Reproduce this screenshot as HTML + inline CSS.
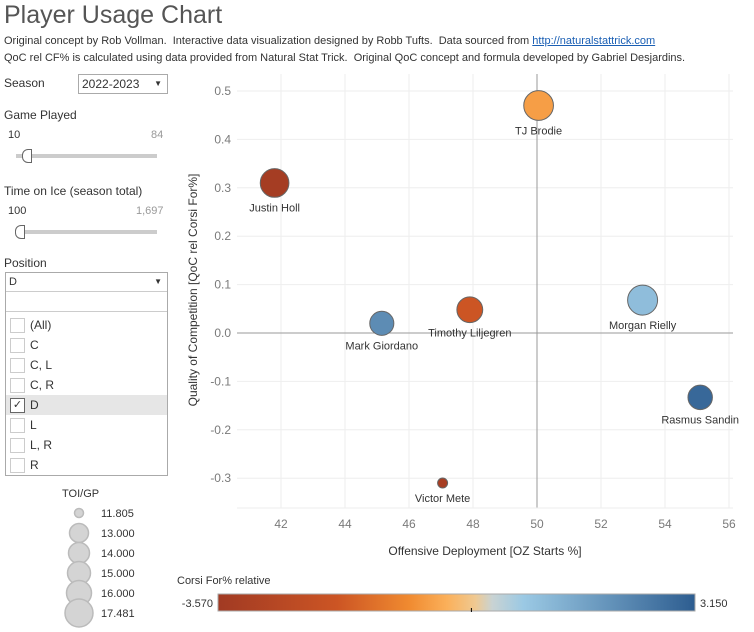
<!DOCTYPE html>
<html><head><meta charset="utf-8"><style>
body{margin:0;width:754px;height:632px;background:#fff;font-family:"Liberation Sans",sans-serif;color:#333;position:relative;overflow:hidden}
.a{position:absolute;white-space:nowrap}
.cb{position:absolute;left:4px;width:13px;height:13px;border:1px solid #ccc;background:#fff}
.opt{position:absolute;left:24px;font-size:12px;color:#333}
</style></head><body>
<div class="a" style="left:4px;top:1px;font-size:25px;color:#555;font-style:normal">Player Usage Chart</div>
<div class="a" style="left:4px;top:35px;font-size:11px;color:#333">Original concept by Rob Vollman.&nbsp; Interactive data visualization designed by Robb Tufts.&nbsp; Data sourced from <span style="color:#1a5fb4;text-decoration:underline">http://naturalstattrick.com</span></div>
<div class="a" style="left:4px;top:52px;font-size:11px;color:#333">QoC rel CF% is calculated using data provided from Natural Stat Trick.&nbsp; Original QoC concept and formula developed by Gabriel Desjardins.</div>

<div class="a" style="left:4px;top:76px;font-size:12px">Season</div>
<div class="a" style="left:78px;top:74px;width:88px;height:18px;border:1px solid #aaa;font-size:12px;line-height:18px;text-indent:3px">2022-2023<span style="position:absolute;right:5px;font-size:8px">▼</span></div>

<div class="a" style="left:4px;top:108px;font-size:12px">Game Played</div>
<div class="a" style="left:8px;top:129px;font-size:11px">10</div>
<div class="a" style="left:151px;top:129px;font-size:11px;color:#999">84</div>
<div class="a" style="left:16px;top:154px;width:141px;height:4px;background:#ccc"></div>
<div class="a" style="left:22px;top:149px;width:8px;height:12px;border:1px solid #666;border-radius:6px 0 0 6px;background:#fff"></div>

<div class="a" style="left:4px;top:184px;font-size:12px">Time on Ice (season total)</div>
<div class="a" style="left:8px;top:205px;font-size:11px">100</div>
<div class="a" style="left:136px;top:205px;font-size:11px;color:#999">1,697</div>
<div class="a" style="left:16px;top:230px;width:141px;height:4px;background:#ccc"></div>
<div class="a" style="left:15px;top:225px;width:8px;height:12px;border:1px solid #666;border-radius:6px 0 0 6px;background:#fff"></div>

<div class="a" style="left:4px;top:256px;font-size:12px">Position</div>
<div class="a" style="left:5px;top:272px;width:161px;height:202px;border:1px solid #aaa;background:#fff">
 <div class="a" style="left:3px;top:3px;font-size:11px">D</div><div class="a" style="right:5px;top:4px;font-size:8px">▼</div>
 <div class="a" style="left:0;top:18px;width:161px;border-top:1px solid #ccc"></div>
 <div class="a" style="left:0;top:38px;width:161px;border-top:1px solid #ccc"></div>
 <div class="a" style="left:0;top:122px;width:161px;height:20px;background:#e6e6e6"></div>
 <div class="cb" style="top:45px"></div><div class="opt" style="top:45px">(All)</div>
 <div class="cb" style="top:65px"></div><div class="opt" style="top:65px">C</div>
 <div class="cb" style="top:85px"></div><div class="opt" style="top:85px">C, L</div>
 <div class="cb" style="top:105px"></div><div class="opt" style="top:105px">C, R</div>
 <div class="cb" style="top:125px;border-color:#666;font-size:11px;line-height:13px;text-align:center">✓</div><div class="opt" style="top:125px">D</div>
 <div class="cb" style="top:145px"></div><div class="opt" style="top:145px">L</div>
 <div class="cb" style="top:165px"></div><div class="opt" style="top:165px">L, R</div>
 <div class="cb" style="top:185px"></div><div class="opt" style="top:185px">R</div>
</div>

<div class="a" style="left:62px;top:488px;font-size:11px">TOI/GP</div>
<svg class="a" style="left:0;top:500px" width="180" height="132">
 <g fill="#d4d4d4" stroke="#bbb" stroke-width="1.5">
 <circle cx="79" cy="13" r="4.5"/><circle cx="79" cy="33" r="9.5"/><circle cx="79" cy="53" r="10.5"/><circle cx="79" cy="73" r="11.5"/><circle cx="79" cy="93" r="12.5"/><circle cx="79" cy="113" r="14"/></g>
 <g font-size="11" fill="#333" font-family="Liberation Sans"><text x="101" y="17">11.805</text><text x="101" y="37">13.000</text><text x="101" y="57">14.000</text><text x="101" y="77">15.000</text><text x="101" y="97">16.000</text><text x="101" y="117">17.481</text></g>
</svg>

<svg class="a" id="chart" style="left:0;top:0" width="754" height="632">
<defs><linearGradient id="cg"><stop offset="0" stop-color="#a13a23"/><stop offset="0.25" stop-color="#cc5524"/><stop offset="0.4" stop-color="#f08a30"/><stop offset="0.48" stop-color="#fbb05a"/><stop offset="0.54" stop-color="#efc992"/><stop offset="0.575" stop-color="#c9d3d3"/><stop offset="0.64" stop-color="#9bc9e4"/><stop offset="1" stop-color="#2d5d90"/></linearGradient></defs>
</svg>
<script>
const xTicks=[42,44,46,48,50,52,54,56];
const yTicks=[0.5,0.4,0.3,0.2,0.1,0.0,-0.1,-0.2,-0.3];
const players=["TJ Brodie","Justin Holl","Mark Giordano","Timothy Liljegren","Morgan Rielly","Rasmus Sandin","Victor Mete"];
const ozStarts=[50.05,41.8,45.15,47.9,53.3,55.1,47.05];
const qoc=[0.47,0.31,0.02,0.048,0.068,-0.133,-0.31];
const toiGp=[17.4,17.1,15.8,16.3,17.48,15.9,11.805];
const cfRel=[-0.6,-3.4,2.1,-1.9,1.0,2.9,-3.3];
const cfMin=-3.57, cfMax=3.15;
const NS="http://www.w3.org/2000/svg";
const svg=document.getElementById('chart');
const L=237,R=733,T=74,B=508;
const X=v=>537+(v-50)*32;
const Y=v=>333-v*484;
const rad=t=>5+(t-11.805)/(17.481-11.805)*10;
const stops=[[0,[161,58,35]],[0.25,[204,85,36]],[0.4,[240,138,48]],[0.48,[251,176,90]],[0.54,[239,201,146]],[0.575,[201,211,211]],[0.64,[155,201,228]],[1,[45,93,144]]];
function col(v){const p=(v-cfMin)/(cfMax-cfMin);for(let i=1;i<stops.length;i++){if(p<=stops[i][0]){const a=stops[i-1],b=stops[i],f=(p-a[0])/(b[0]-a[0]);return 'rgb('+a[1].map((c,k)=>Math.round(c+(b[1][k]-c)*f)).join(',')+')';}}return 'rgb(45,93,144)';}
function mk(t,at){const e=document.createElementNS(NS,t);for(const k in at)e.setAttribute(k,at[k]);svg.appendChild(e);return e;}
xTicks.forEach(v=>{const l=mk('line',{x1:X(v),x2:X(v),y1:T,y2:B,stroke:'#eee'});
 const t=mk('text',{x:X(v),y:B+20,'text-anchor':'middle','font-size':12,fill:'#7a7a7a','font-family':'Liberation Sans'});t.textContent=v;});
yTicks.forEach(v=>{const l=mk('line',{x1:L,x2:R,y1:Y(v),y2:Y(v),stroke:'#eee'});
 const t=mk('text',{x:L-6,y:Y(v)+4,'text-anchor':'end','font-size':12,fill:'#7a7a7a','font-family':'Liberation Sans'});t.textContent=v.toFixed(1);});
let z=mk('line',{x1:L,x2:R,y1:Y(0),y2:Y(0),stroke:'#999'});
z=mk('line',{x1:X(50),x2:X(50),y1:T,y2:B,stroke:'#999'});
let ax=mk('line',{x1:L,x2:R,y1:B,y2:B,stroke:'#eee'});
players.forEach((n,i)=>{const r=rad(toiGp[i]);const c=mk('circle',{cx:X(ozStarts[i]),cy:Y(qoc[i]),r:r,fill:col(cfRel[i]),stroke:'#666','stroke-width':1});
 
 const t=mk('text',{x:X(ozStarts[i]),y:Y(qoc[i])+r+14,'text-anchor':'middle','font-size':11,fill:'#333','font-family':'Liberation Sans'});t.textContent=n;
 });
let t=mk('text',{x:485,y:555,'text-anchor':'middle','font-size':12,fill:'#333','font-family':'Liberation Sans'});t.textContent='Offensive Deployment [OZ Starts %]';
t=mk('text',{x:0,y:0,'text-anchor':'middle','font-size':12,fill:'#333','font-family':'Liberation Sans',transform:'translate(197,290) rotate(-90)'});t.textContent='Quality of Competition [QoC rel Corsi For%]';
t=mk('text',{x:177,y:584,'font-size':11,fill:'#333','font-family':'Liberation Sans'});t.textContent='Corsi For% relative';
let g=mk('rect',{x:218,y:594,width:477,height:17,fill:'url(#cg)',stroke:'#aaa'});
const zx=218+477*(0-cfMin)/(cfMax-cfMin);
g=mk('line',{x1:zx,x2:zx,y1:608,y2:612,stroke:'#000'});
t=mk('text',{x:213,y:607,'text-anchor':'end','font-size':11,fill:'#333','font-family':'Liberation Sans'});t.textContent=cfMin.toFixed(3);
t=mk('text',{x:700,y:607,'font-size':11,fill:'#333','font-family':'Liberation Sans'});t.textContent=cfMax.toFixed(3);
</script>
</body></html>
